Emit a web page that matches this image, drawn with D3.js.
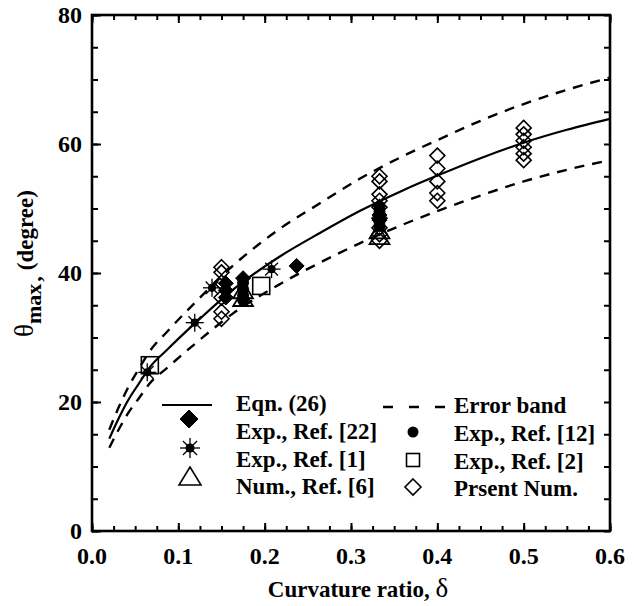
<!DOCTYPE html>
<html>
<head>
<meta charset="utf-8">
<script src="https://cdn.jsdelivr.net/npm/d3@7"></script>
<style>
  body { margin: 0; background: #fff; }
  svg text { font-family: "Liberation Serif", "Times New Roman", "DejaVu Serif", serif; font-weight: bold; fill: #000; }
</style>
</head>
<body>
<svg id="chart"></svg>
<script>
// curve: Eqn. (26) and its error band
const curveDelta = [0.02, 0.03, 0.042, 0.055, 0.067, 0.087, 0.12, 0.163, 0.218, 0.264, 0.31, 0.36, 0.4, 0.45, 0.5, 0.55, 0.6];
const eqnTheta   = [14.3, 17.2, 20.3, 23.0, 25.4, 28.1, 32.3, 37.4, 42.6, 46.2, 49.6, 52.8, 55.1, 57.8, 60.2, 62.2, 63.9];
const upperTheta = [15.7, 18.9, 22.3, 25.3, 27.9, 30.9, 35.5, 41.1, 46.9, 50.8, 54.6, 58.1, 60.6, 63.6, 66.2, 68.4, 70.3];
const lowerTheta = [12.9, 15.5, 18.3, 20.7, 22.9, 25.3, 29.1, 33.7, 38.3, 41.6, 44.6, 47.5, 49.6, 52.0, 54.2, 56.0, 57.5];

// Exp., Ref. [22] (filled diamonds)
const ref22 = [[0.155, 38.4], [0.155, 37.3], [0.155, 36.2], [0.175, 39.2], [0.237, 41.1], [0.333, 49.0], [0.333, 48.2]];
// Exp., Ref. [12] (filled circles)
const ref12 = [[0.175, 38.5], [0.175, 37.5], [0.175, 36.5], [0.175, 35.8], [0.333, 50.3], [0.333, 49.5], [0.333, 48.7], [0.333, 48.0], [0.333, 47.3]];
// Exp., Ref. [1] (stars)
const ref1 = [[0.064, 24.6], [0.119, 32.3], [0.139, 37.7], [0.208, 40.6]];
// Exp., Ref. [2] (open squares)
const ref2 = [[0.067, 25.7], [0.196, 38.0]];
// Num., Ref. [6] (open triangles)
const ref6 = [[0.175, 37.2], [0.175, 36.0], [0.333, 46.5], [0.333, 45.6]];
// Prsent Num. (open diamonds)
const present = [
  [0.15, 40.9], [0.15, 40.1], [0.15, 38.5], [0.15, 36.2], [0.15, 34.0], [0.15, 32.9],
  [0.333, 55.0], [0.333, 54.2], [0.333, 52.2], [0.333, 51.2], [0.333, 50.2], [0.333, 48.5], [0.333, 47.0], [0.333, 46.0], [0.333, 45.0],
  [0.4, 58.2], [0.4, 56.2], [0.4, 54.2], [0.4, 52.4], [0.4, 51.2],
  [0.5, 62.5], [0.5, 61.5], [0.5, 60.5], [0.5, 59.5], [0.5, 58.5], [0.5, 57.5]
];

const xTicks = [0, 0.1, 0.2, 0.3, 0.4, 0.5, 0.6];
const yTicks = [0, 20, 40, 60, 80];

const W = 634, H = 606;
const svg = d3.select('#chart').attr('width', W).attr('height', H);

const x = d3.scaleLinear().domain([0, 0.6]).range([92, 610]);
const y = d3.scaleLinear().domain([0, 80]).range([531, 15]);

// minor ticks inside the frame
const xMinor = d3.range(0, 0.6001, 0.025);
const yMinor = d3.range(0, 80.001, 5);

function tickAxis(axis, g) {
  g.call(axis);
  g.select('.domain').remove();
  g.selectAll('line').attr('stroke', '#000').attr('stroke-width', 2);
}

// bottom / top
tickAxis(d3.axisTop(x).tickValues(xMinor).tickSize(5).tickFormat(''), svg.append('g').attr('transform', 'translate(0,531)'));
tickAxis(d3.axisTop(x).tickValues(xTicks).tickSize(8).tickFormat(''), svg.append('g').attr('transform', 'translate(0,531)'));
tickAxis(d3.axisBottom(x).tickValues(xMinor).tickSize(5).tickFormat(''), svg.append('g').attr('transform', 'translate(0,15)'));
tickAxis(d3.axisBottom(x).tickValues(xTicks).tickSize(8).tickFormat(''), svg.append('g').attr('transform', 'translate(0,15)'));
// left / right
tickAxis(d3.axisRight(y).tickValues(yMinor).tickSize(6).tickFormat(''), svg.append('g').attr('transform', 'translate(92,0)'));
tickAxis(d3.axisRight(y).tickValues(yTicks).tickSize(9).tickFormat(''), svg.append('g').attr('transform', 'translate(92,0)'));
tickAxis(d3.axisLeft(y).tickValues(yMinor).tickSize(6).tickFormat(''), svg.append('g').attr('transform', 'translate(610,0)'));

// frame
svg.append('rect')
  .attr('x', x(0)).attr('y', y(80))
  .attr('width', x(0.6) - x(0)).attr('height', y(0) - y(80))
  .attr('fill', 'none').attr('stroke', '#000').attr('stroke-width', 2.6);

// tick labels
svg.selectAll('.xlab').data(xTicks).enter().append('text')
  .attr('x', d => x(d)).attr('y', 564)
  .attr('text-anchor', 'middle').attr('font-size', 24)
  .text(d => d3.format('.1f')(d));
svg.selectAll('.ylab').data(yTicks).enter().append('text')
  .attr('x', 82).attr('y', d => y(d) + 8)
  .attr('text-anchor', 'end').attr('font-size', 24)
  .text(d => d);

// axis titles
const xt = svg.append('text').attr('x', 358).attr('y', 597).attr('text-anchor', 'middle').attr('font-size', 23);
xt.append('tspan').text('Curvature ratio, ');
xt.append('tspan').attr('font-weight', 'normal').attr('font-size', 27).text('δ');

const yt = svg.append('text').attr('transform', 'translate(33,337) rotate(-90)').attr('font-size', 22);
yt.append('tspan').attr('font-weight', 'normal').attr('font-size', 27).text('θ');
yt.append('tspan').attr('dy', 8).attr('font-size', 22).text('max');
yt.append('tspan').attr('dx', 2).text(',');
yt.append('tspan').attr('dy', -8).attr('dx', 6).attr('font-size', 23).text('(degree)');

// curves
const line = d3.line().x(d => x(d[0])).y(d => y(d[1])).curve(d3.curveMonotoneX);
const zip = arr => curveDelta.map((d, i) => [d, arr[i]]);
svg.append('path').attr('d', line(zip(eqnTheta))).attr('fill', 'none').attr('stroke', '#000').attr('stroke-width', 2.2);
[upperTheta, lowerTheta].forEach(arr => {
  svg.append('path').attr('d', line(zip(arr))).attr('fill', 'none')
    .attr('stroke', '#000').attr('stroke-width', 2.4).attr('stroke-dasharray', '10,8');
});

// marker drawers
function diamond(g, cx, cy, s, filled) {
  g.append('path')
    .attr('d', `M${cx},${cy - s}L${cx + s},${cy}L${cx},${cy + s}L${cx - s},${cy}Z`)
    .attr('fill', filled ? '#000' : 'none').attr('stroke', '#000').attr('stroke-width', filled ? 1 : 1.6);
}
function star(g, cx, cy, r) {
  [0, 45, 90, 135].forEach(a => {
    const dx = r * Math.cos(a * Math.PI / 180), dy = r * Math.sin(a * Math.PI / 180);
    g.append('line').attr('x1', cx - dx).attr('y1', cy - dy).attr('x2', cx + dx).attr('y2', cy + dy)
      .attr('stroke', '#000').attr('stroke-width', 1.3);
  });
  g.append('circle').attr('cx', cx).attr('cy', cy).attr('r', r * 0.45).attr('fill', '#000');
}
function square(g, cx, cy, s, sw) {
  g.append('rect').attr('x', cx - s).attr('y', cy - s).attr('width', 2 * s).attr('height', 2 * s)
    .attr('fill', 'none').attr('stroke', '#000').attr('stroke-width', sw);
}
function triangle(g, cx, cy, s, sw) {
  g.append('path')
    .attr('d', `M${cx},${cy - s}L${cx + s * 1.1},${cy + s * 0.8}L${cx - s * 1.1},${cy + s * 0.8}Z`)
    .attr('fill', 'none').attr('stroke', '#000').attr('stroke-width', sw);
}

const marks = svg.append('g');
present.forEach(d => diamond(marks, x(d[0]), y(d[1]), 7.5, false));
ref6.forEach(d => triangle(marks, x(d[0]), y(d[1]), 9, 1.8));
ref2.forEach(d => square(marks, x(d[0]), y(d[1]), 8.5, 1.6));
ref22.forEach(d => diamond(marks, x(d[0]), y(d[1]), 7.5, true));
ref12.forEach(d => marks.append('circle').attr('cx', x(d[0])).attr('cy', y(d[1])).attr('r', 6).attr('fill', '#000'));
ref1.forEach(d => star(marks, x(d[0]), y(d[1]), 9));

// legend
const leg = svg.append('g');
const legFont = 23;
leg.append('line').attr('x1', 162).attr('x2', 212).attr('y1', 405).attr('y2', 405).attr('stroke', '#000').attr('stroke-width', 2.2);
diamond(leg, 189, 419, 9, true);
star(leg, 190, 448, 10);
triangle(leg, 190, 477, 10, 1.6);
leg.append('line').attr('x1', 383).attr('x2', 445).attr('y1', 407).attr('y2', 407)
  .attr('stroke', '#000').attr('stroke-width', 2.4).attr('stroke-dasharray', '10,16');
leg.append('circle').attr('cx', 413).attr('cy', 432).attr('r', 5.5).attr('fill', '#000');
square(leg, 413, 460, 6.5, 1.6);
diamond(leg, 413, 487, 8, false);

const leftLabels = ['Eqn. (26)', 'Exp., Ref. [22]', 'Exp., Ref. [1]', 'Num., Ref. [6]'];
const rightLabels = ['Error band', 'Exp., Ref. [12]', 'Exp., Ref. [2]', 'Prsent Num.'];
const rowY = [411, 439, 467, 494];
leg.selectAll('.ll').data(leftLabels).enter().append('text')
  .attr('x', 236).attr('y', (d, i) => rowY[i]).attr('font-size', legFont).text(d => d);
leg.selectAll('.rl').data(rightLabels).enter().append('text')
  .attr('x', 454).attr('y', (d, i) => rowY[i] + 2).attr('font-size', legFont).text(d => d);
</script>
</body>
</html>
